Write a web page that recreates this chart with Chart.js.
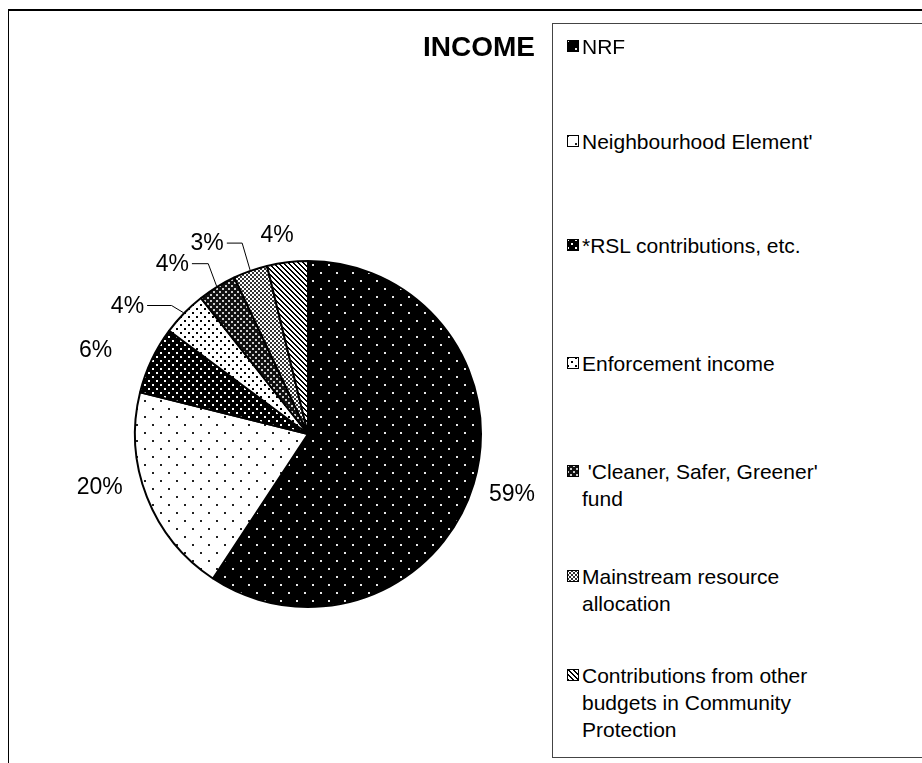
<!DOCTYPE html>
<html>
<head>
<meta charset="utf-8">
<script src="https://cdn.jsdelivr.net/npm/chart.js@4.4.1/dist/chart.umd.min.js"></script>
<style>
    html, body { margin: 0; padding: 0; background: #fff; overflow: hidden; }
    body { width: 922px; height: 763px; position: relative; font-family: "Liberation Sans", Arial, sans-serif; color: #000; }
    #frame { position: absolute; left: 8px; top: 9px; width: 1000px; height: 900px; border-left: 1px solid #000; border-top: 2px solid #000; }
    #pie { position: absolute; left: 0; top: 0; }
    #title { position: absolute; right: 387px; top: 31px; font-weight: bold; font-size: 28px; line-height: 32px; }
    #legend { position: absolute; left: 552px; top: 23px; width: 500px; height: 733px; border: 1px solid #444; }
    .item { position: absolute; left: 14px; display: flex; align-items: flex-start; }
    .item canvas { margin: 7px 3px 0 0; flex: none; }
    .item span { font-size: 21px; line-height: 27px; width: 250px; white-space: pre-wrap; }
</style>
</head>
<body>
<div id="frame"></div>
<canvas id="pie" width="552" height="763"></canvas>
<div id="title">INCOME</div>
<div id="legend"></div>
<script>
var categories = [
    'NRF',
    "Neighbourhood Element'",
    '*RSL contributions, etc.',
    'Enforcement income',
    " 'Cleaner, Safer, Greener' fund",
    'Mainstream resource allocation',
    'Contributions from other budgets in Community Protection'
];
var shares = [59.2, 19.6, 6.3, 4.2, 3.6, 3.2, 3.8];

// label placement: [angle shift in degrees, distance outside the rim]
var labelNudge = [[0, 40], [7, 42], [-4, 55], [-9, 48], [-7, 44], [-8.5, 42], [-2, 28]];
var leader = [false, false, false, true, true, true, false];
// first-line centre of each legend entry, from the legend box top
var legendRows = [22, 117, 221, 339, 447, 552, 651];

function tile(size, bg, fg, cells) {
    var c = document.createElement('canvas');
    c.width = size;
    c.height = size;
    var g = c.getContext('2d');
    g.fillStyle = bg;
    g.fillRect(0, 0, size, size);
    g.fillStyle = fg;
    cells.forEach(function (r) {
        g.fillRect(r[0], r[1], r[2], r[3]);
    });
    return c;
}

var stripes = [];
for (var k = 0; k < 5; k++) {
    stripes.push([k, k, 1, 1]);
    stripes.push([(k + 1) % 5, k, 1, 1]);
}

var tiles = [
    tile(16, '#000', '#e8e8e8', [[0, 0, 2, 2], [8, 8, 2, 2]]),
    tile(16, '#fff', '#222', [[0, 0, 2, 2], [8, 8, 2, 2]]),
    tile(8, '#000', '#fff', [[0, 0, 2, 2], [4, 4, 2, 2]]),
    tile(8, '#fff', '#000', [[0, 0, 2, 2], [4, 4, 2, 2]]),
    tile(6, '#111', '#ccc', [[0, 0, 2, 2], [3, 3, 2, 2]]),
    tile(4, '#fff', '#333', [[0, 0, 2, 2], [2, 2, 2, 2]]),
    tile(5, '#fff', '#000', stripes)
];

var pieCanvas = document.getElementById('pie');
var ctx = pieCanvas.getContext('2d');
var fills = tiles.map(function (t) { return ctx.createPattern(t, 'repeat'); });

var pctLabels = {
    id: 'pctLabels',
    afterDatasetsDraw: function (chart) {
        var c = chart.ctx;
        var arcs = chart.getDatasetMeta(0).data;
        var total = shares.reduce(function (a, b) { return a + b; }, 0);
        c.save();
        c.font = '23px "Liberation Sans", Arial, sans-serif';
        c.fillStyle = '#000';
        c.strokeStyle = '#000';
        c.textAlign = 'center';
        c.textBaseline = 'middle';
        arcs.forEach(function (arc, i) {
            var p = arc.getProps(['x', 'y', 'startAngle', 'endAngle', 'outerRadius'], true);
            var mid = (p.startAngle + p.endAngle) / 2;
            var a = mid + labelNudge[i][0] * Math.PI / 180;
            var d = p.outerRadius + labelNudge[i][1];
            var lx = p.x + Math.cos(a) * d;
            var ly = p.y + Math.sin(a) * d;
            var txt = Math.round(shares[i] / total * 100) + '%';
            c.fillText(txt, lx, ly);
            if (leader[i]) {
                var right = lx + c.measureText(txt).width / 2;
                var ex = p.x + Math.cos(mid) * (p.outerRadius + 1);
                var ey = p.y + Math.sin(mid) * (p.outerRadius + 1);
                // elbow just short of the rim point, on the label's line
                var kx = Math.max(ex - (ex - right) * 0.3, right + 10);
                c.beginPath();
                c.moveTo(right + 3, ly - 1);
                c.lineTo(kx, ly - 1);
                c.lineTo(ex, ey);
                c.lineWidth = 1;
                c.stroke();
            }
        });
        c.restore();
    }
};

new Chart(ctx, {
    type: 'pie',
    data: {
        labels: categories,
        datasets: [{
            data: shares,
            backgroundColor: fills,
            borderColor: '#000',
            borderWidth: 2
        }]
    },
    options: {
        responsive: false,
        animation: false,
        layout: { padding: { left: 134, right: 70, top: 260, bottom: 155 } },
        plugins: {
            legend: { display: false },
            tooltip: { enabled: false }
        }
    },
    plugins: [pctLabels]
});

var legend = document.getElementById('legend');
categories.forEach(function (name, i) {
    var row = document.createElement('div');
    row.className = 'item';
    row.style.top = (legendRows[i] - 13) + 'px';
    var box = document.createElement('canvas');
    box.width = 12;
    box.height = 12;
    var g = box.getContext('2d');
    g.fillStyle = g.createPattern(tiles[i], 'repeat');
    g.fillRect(0, 0, 12, 12);
    g.strokeStyle = '#000';
    g.lineWidth = 1;
    g.strokeRect(0.5, 0.5, 11, 11);
    var txt = document.createElement('span');
    txt.textContent = name;
    row.appendChild(box);
    row.appendChild(txt);
    legend.appendChild(row);
});
</script>
</body>
</html>
